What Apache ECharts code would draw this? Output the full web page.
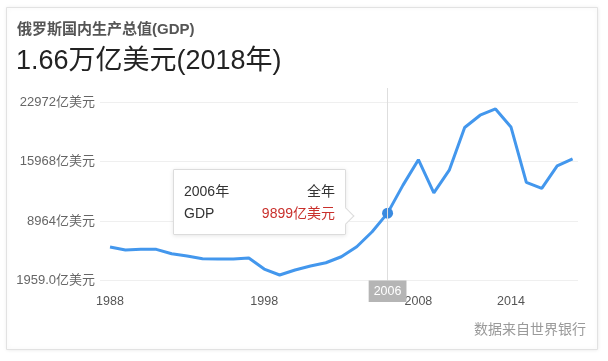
<!DOCTYPE html>
<html>
<head>
<meta charset="utf-8">
<script src="https://cdn.jsdelivr.net/npm/echarts@6/dist/echarts.min.js"></script>
<style>
html,body{margin:0;padding:0;background:#fff;}
#chart{width:608px;height:361px;}
</style>
</head>
<body>
<div id="chart"></div>
<script>
// Data (亿美元)
var years = [1988,1989,1990,1991,1992,1993,1994,1995,1996,1997,1998,1999,2000,2001,2002,2003,2004,2005,2006,2007,2008,2009,2010,2011,2012,2013,2014,2015,2016,2017,2018];
var gdp = [5900,5550,5630,5630,5110,4840,4530,4500,4500,4610,3310,2610,3200,3670,4050,4760,5940,7700,9899,13200,16200,12290,14960,19990,21440,22180,20060,13520,12810,15470,16300];
var xTickYears = [1988,1998,2008,2014];
var yTickLabels = ['1959.0亿美元','8964亿美元','15968亿美元','22972亿美元'];
var yMin = 1959, yTop = 22972;
var titleMain = '俄罗斯国内生产总值(GDP)';
var titleValue = '1.66万亿美元(2018年)';
var sourceText = '数据来自世界银行';
var highlightIndex = 18;

var FONT = "'Liberation Sans', 'Noto Sans CJK SC', sans-serif";
var yInterval = (yTop - yMin) / 3;

var chart = echarts.init(document.getElementById('chart'), null, {renderer: 'canvas'});
var seriesData = years.map(function (y, i) { return [y, gdp[i]]; });

chart.setOption({
  animation: false,
  textStyle: {fontFamily: FONT},
  title: [
    {text: titleMain, left: 15, top: 22, padding: [0,0,0,2],
     textStyle: {fontSize: 15, fontWeight: 'bold', color: '#555', fontFamily: FONT}},
    {text: titleValue, left: 15, top: 48, padding: [0,0,0,1],
     textStyle: {fontSize: 27, fontWeight: 'normal', color: '#222', fontFamily: FONT}}
  ],
  graphic: [
    {type: 'rect', z: -10, silent: true,
     shape: {x: 6.5, y: 7.5, width: 591, height: 342},
     style: {fill: '#fff', stroke: '#e2e2e2', lineWidth: 1, shadowBlur: 4, shadowColor: 'rgba(0,0,0,0.08)'}},
    {type: 'text', right: 22, top: 323, silent: true,
     style: {text: sourceText, fontSize: 14, fill: '#9a9a9a', fontFamily: FONT}}
  ],
  grid: {left: 100, right: 30, top: 88, bottom: 80.5, containLabel: false},
  xAxis: {
    type: 'value', min: 1987.35, max: 2018.35,
    axisLine: {show: false}, axisTick: {show: false}, splitLine: {show: false},
    axisLabel: {customValues: xTickYears, color: '#555', fontSize: 12.5, margin: 15,
      formatter: function (v) { return String(Math.round(v)); }},
    axisPointer: {
      label: {show: true, backgroundColor: '#b5b5b5', color: '#fff', fontSize: 12.5,
        padding: [5, 5, 4, 5], margin: 0, borderRadius: 0,
        formatter: function (p) { return String(Math.round(p.value)); }}
    }
  },
  yAxis: {
    type: 'value', min: yMin, max: 24650, interval: yInterval,
    axisLine: {show: false}, axisTick: {show: false},
    splitLine: {show: true, showMaxLine: false, lineStyle: {color: '#efefef', width: 1}},
    axisLabel: {color: '#666', fontSize: 13, margin: 5, showMaxLabel: false,
      formatter: function (v) {
        var idx = Math.round((v - yMin) / yInterval);
        return yTickLabels[idx] || '';
      }}
  },
  tooltip: {
    trigger: 'axis', triggerOn: 'none', alwaysShowContent: true, transitionDuration: 0,
    backgroundColor: '#fff', borderColor: '#dcdcdc', borderWidth: 1, padding: [10, 10],
    extraCssText: 'box-shadow:0 1px 4px rgba(0,0,0,0.10);border-radius:1px;',
    axisPointer: {type: 'line', lineStyle: {color: '#dedede', width: 1, type: 'solid'}},
    position: function (point, params, dom, rect, size) {
      return [point[0] - 215, point[1] - 44];
    },
    formatter: function (params) {
      var p = params[0];
      var yr = Math.round(p.value[0]);
      var v = p.value[1];
      var row = 'display:flex;justify-content:space-between;width:151px;line-height:22px;font-size:14px;color:#333;font-family:' + FONT.replace(/'/g, '"') + ';';
      return '<div style="position:relative;">' +
        '<div style="' + row + '"><span>' + yr + '年</span><span>全年</span></div>' +
        '<div style="' + row + '"><span>GDP</span><span style="color:#c9302c">' + v + '亿美元</span></div>' +
        '<div style="position:absolute;right:-17px;top:30px;width:11px;height:11px;background:#fff;border-top:1px solid #dcdcdc;border-right:1px solid #dcdcdc;transform:rotate(45deg);"></div>' +
        '</div>';
    }
  },
  series: [{
    type: 'line', data: seriesData, showSymbol: false, symbol: 'circle', symbolSize: 11,
    lineStyle: {color: '#3d8ad8', width: 3},
    itemStyle: {color: '#3a8ae0', borderWidth: 0},
    emphasis: {scale: false, itemStyle: {color: '#3a8ae0', borderWidth: 0}},
    smooth: false
  }]
});

chart.dispatchAction({type: 'showTip', seriesIndex: 0, dataIndex: highlightIndex});
</script>
</body>
</html>
